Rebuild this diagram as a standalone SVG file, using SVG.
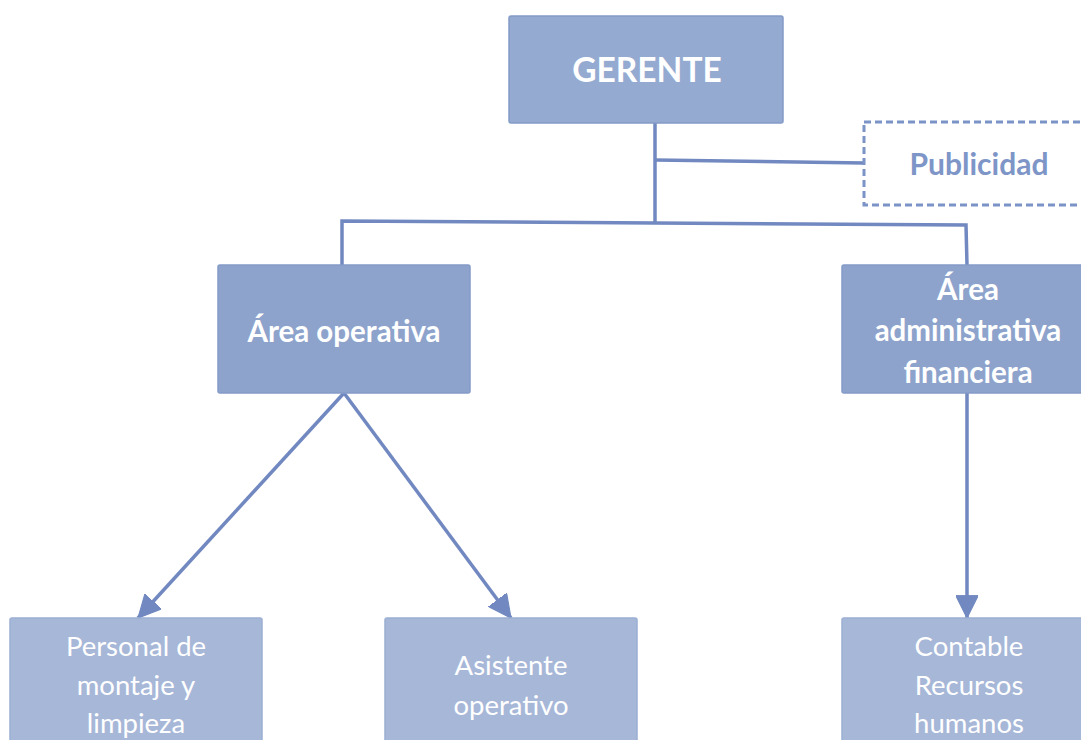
<svg xmlns="http://www.w3.org/2000/svg" width="1081" height="740" viewBox="0 0 1081 740">
<defs>
<style>
.t{font-family:Lato,"Open Sans","Liberation Sans",sans-serif;fill:#fff;text-anchor:middle}
.b{font-weight:bold}
.l1{fill:#94aad1;stroke:#849bc8;stroke-width:1.5}
.l2{fill:#8da3cc;stroke:#849bc8;stroke-width:1.5}
.l3{fill:#a7b7d8;stroke:#9bb0d4;stroke-width:1.5}
.c{stroke:#7189c0;stroke-width:3.5;fill:none}
</style>
<marker id="ah" viewBox="0 0 10 10" refX="10" refY="5" markerWidth="6.5" markerHeight="6.5" orient="auto" markerUnits="strokeWidth">
<path d="M0,0 L10,5 L0,10 Z" fill="#7189c0" stroke="#7189c0" stroke-width="0.5"/>
</marker>
</defs>
<rect width="1081" height="740" fill="#fff"/>
<g id="connectors">
<path class="c" d="M655,123 L655,222"/>
<path class="c" d="M655,160 L864,163"/>
<path class="c" d="M342,265 L342,221 L966,225 L967,265"/>
<path class="c" d="M344,393 L138,618" marker-end="url(#ah)"/>
<path class="c" d="M344,393 L511,618" marker-end="url(#ah)"/>
<path class="c" d="M967,393 L967,618" marker-end="url(#ah)"/>
</g>
<g id="gerente">
<rect class="l1" x="509" y="16" width="274" height="107" rx="2"/>
<text class="t b" x="647" y="82" font-size="33.5">GERENTE</text>
</g>
<g id="publicidad">
<rect x="864" y="122" width="230" height="83" fill="#fff" stroke="#7b93c6" stroke-width="3" stroke-dasharray="7,4"/>
<text x="979" y="175" font-size="30" font-weight="bold" fill="#7e95c7" text-anchor="middle" font-family="Lato,'Open Sans','Liberation Sans',sans-serif">Publicidad</text>
</g>
<g id="area-operativa">
<rect class="l2" x="218" y="265" width="252" height="128" rx="2"/>
<text class="t b" x="344" y="342" font-size="29.5">Área operativa</text>
</g>
<g id="area-admin">
<rect class="l2" x="842" y="265" width="250" height="128" rx="2"/>
<text class="t b" font-size="29.5"><tspan x="968" y="300">Área</tspan><tspan x="968" y="341">administrativa</tspan><tspan x="968" y="383">financiera</tspan></text>
</g>
<g id="personal">
<rect class="l3" x="10" y="618" width="252" height="130" rx="2"/>
<text class="t" font-size="27.5"><tspan x="136" y="656">Personal de</tspan><tspan x="136" y="695">montaje y</tspan><tspan x="136" y="733">limpieza</tspan></text>
</g>
<g id="asistente">
<rect class="l3" x="385" y="618" width="252" height="130" rx="2"/>
<text class="t" font-size="27.5"><tspan x="511" y="675">Asistente</tspan><tspan x="511" y="715">operativo</tspan></text>
</g>
<g id="contable">
<rect class="l3" x="842" y="618" width="250" height="130" rx="2"/>
<text class="t" font-size="27.5"><tspan x="969" y="656">Contable</tspan><tspan x="969" y="695">Recursos</tspan><tspan x="969" y="733">humanos</tspan></text>
</g>
</svg>
